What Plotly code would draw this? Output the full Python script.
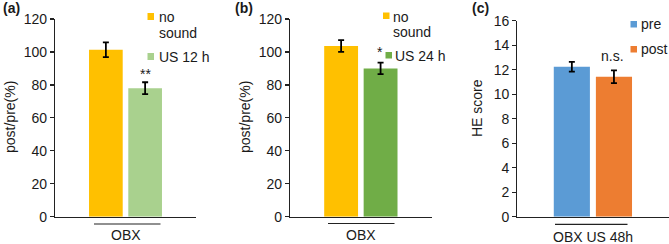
import plotly.graph_objects as go

W, H = 669, 244

# ---- data ----
cat_a = ["OBX"]
cat_b = ["OBX"]
cat_c = ["OBX US 48h"]

a_nosound = [101.3]
a_nosound_err = [4.5]
a_us12 = [78.0]
a_us12_err = [3.6]

b_nosound = [103.6]
b_nosound_err = [3.6]
b_us24 = [90.0]
b_us24_err = [3.5]

c_pre = [12.24]
c_pre_err = [0.4]
c_post = [11.42]
c_post_err = [0.52]

yticks_ab = [0, 20, 40, 60, 80, 100, 120]
yticks_c = [0, 2, 4, 6, 8, 10, 12, 14, 16]

# colours
ORANGE = "#FFC000"
LGREEN = "#A9D18E"
GREEN = "#70AD47"
BLUE = "#5B9BD5"
ORANGE2 = "#ED7D31"
TXT = "#1a1a1a"
FONT = "Liberation Sans, Arial, sans-serif"


def px(x):
    return x / W


def py(y):
    return 1 - y / H


def bar(xa, ya, cats, vals, errs, color, name):
    return go.Bar(
        x=cats, y=vals, name=name, marker=dict(color=color, line=dict(width=0)),
        error_y=dict(type="data", array=errs, visible=True, color="black",
                     thickness=1.8, width=3),
        xaxis=xa, yaxis=ya, showlegend=False,
    )


fig = go.Figure()
fig.add_trace(bar("x", "y", cat_a, a_nosound, a_nosound_err, ORANGE, "no sound"))
fig.add_trace(bar("x", "y", cat_a, a_us12, a_us12_err, LGREEN, "US 12 h"))
fig.add_trace(bar("x2", "y2", cat_b, b_nosound, b_nosound_err, ORANGE, "no sound"))
fig.add_trace(bar("x2", "y2", cat_b, b_us24, b_us24_err, GREEN, "US 24 h"))
fig.add_trace(bar("x3", "y3", cat_c, c_pre, c_pre_err, BLUE, "pre"))
fig.add_trace(bar("x3", "y3", cat_c, c_post, c_post_err, ORANGE2, "post"))

y0 = py(216.7)
xdom = {"a": [px(55), px(196)], "b": [px(290), px(431.7)], "c": [px(517.3), px(668.5)]}

axcommon_x = dict(showline=True, linecolor="#222", linewidth=1.3, ticks="",
                  showticklabels=False, showgrid=False, zeroline=False, automargin=False)
axcommon_y = dict(showline=True, linecolor="#222", linewidth=1.2, ticks="outside",
                  ticklen=4, tickwidth=1.2, tickcolor="#222", showgrid=False, zeroline=False,
                  tickfont=dict(family=FONT, size=14, color=TXT), automargin=False)

fig.update_layout(
    width=W, height=H, margin=dict(l=0, r=0, t=0, b=0, pad=0, autoexpand=False),
    paper_bgcolor="white", plot_bgcolor="white",
    barmode="group", bargap=0.443, bargroupgap=0.142,
    font=dict(family=FONT, size=14, color=TXT),
    xaxis=dict(domain=xdom["a"], anchor="y", **axcommon_x),
    yaxis=dict(domain=[y0, py(19.0)], anchor="x", range=[0, 120], tickvals=yticks_ab, **axcommon_y),
    xaxis2=dict(domain=xdom["b"], anchor="y2", **axcommon_x),
    yaxis2=dict(domain=[y0, py(19.0)], anchor="x2", range=[0, 120], tickvals=yticks_ab, **axcommon_y),
    xaxis3=dict(domain=xdom["c"], anchor="y3", **axcommon_x),
    yaxis3=dict(domain=[y0, py(20.7)], anchor="x3", range=[0, 16], tickvals=yticks_c, **axcommon_y),
)

ann = []
shapes = []


def text(x, y, t, size=14, xanchor="left", bold=False, **kw):
    ann.append(dict(x=px(x), y=py(y), xref="paper", yref="paper", text=(f"<b>{t}</b>" if bold else t),
                    showarrow=False, xanchor=xanchor, yanchor="middle",
                    font=dict(family=FONT, size=size, color=TXT), **kw))


def square(x0, y0_, x1, y1, color):
    shapes.append(dict(type="rect", xref="paper", yref="paper", x0=px(x0), x1=px(x1),
                       y0=py(y1), y1=py(y0_), fillcolor=color, line=dict(width=0)))


# panel labels
text(1, 8, "(a)", bold=True)
text(233, 8, "(b)", bold=True)
text(470, 8, "(c)", bold=True)

# y-axis titles
text(10, 117, "post/pre(%)", xanchor="center", textangle=-90)
text(245, 117, "post/pre(%)", xanchor="center", textangle=-90)
text(477, 108, "HE score", xanchor="center", textangle=-90)

# legends
square(147.5, 13, 154, 20, ORANGE)
text(157, 17, "no")
text(157, 33, "sound")
square(147.5, 53, 154, 60, LGREEN)
text(157, 57, "US 12 h")

square(383, 12.5, 389.5, 19, ORANGE)
text(391, 16.5, "no")
text(391, 32, "sound")
square(385.5, 52, 392, 58.5, GREEN)
text(393, 55.5, "US 24 h")

square(630.5, 21, 637, 27.5, BLUE)
text(638.5, 24.5, "pre")
square(630.5, 46, 637, 52.5, ORANGE2)
text(638.5, 49, "post")

# significance marks
text(145.3, 74, "**", xanchor="center")
text(379.5, 52, "*", xanchor="center")
text(612.5, 56, "n.s.", xanchor="center")

# category labels + group lines
for xa, cats, yl, lx0, lx1, ly in [("x", cat_a, 234.5, 94, 160.5, 224),
                                  ("x2", cat_b, 234.5, 328, 394.5, 223.5),
                                  ("x3", cat_c, 236.5, 555, 627.5, 224.3)]:
    ann.append(dict(x=cats[0], y=py(yl), xref=xa, yref="paper", text=cats[0], showarrow=False,
                    xanchor="center", yanchor="middle", font=dict(family=FONT, size=14, color=TXT)))
    shapes.append(dict(type="line", xref="paper", yref="paper", x0=px(lx0), x1=px(lx1),
                       y0=py(ly), y1=py(ly), line=dict(color="#222", width=1.2)))

fig.update_layout(annotations=ann, shapes=shapes)
fig.write_html("out.html", config={"displayModeBar": False, "staticPlot": True},
               post_script="document.body.style.margin='0';")
